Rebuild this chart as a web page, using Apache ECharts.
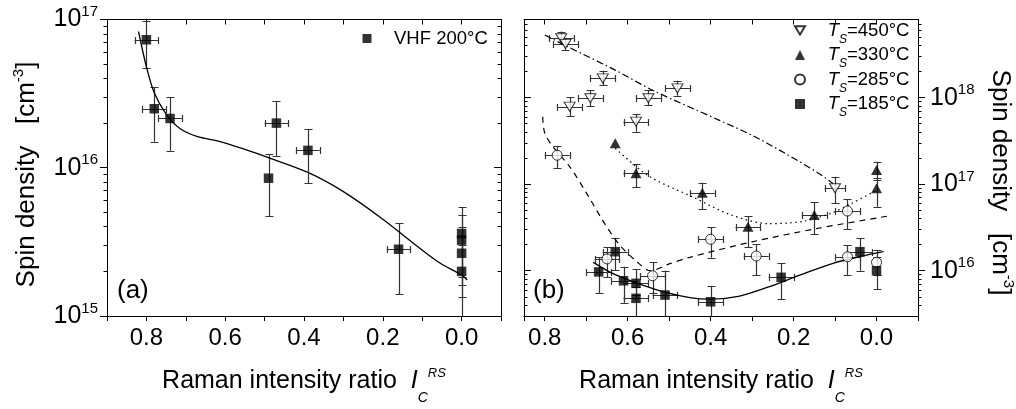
<!DOCTYPE html>
<html><head><meta charset="utf-8">
<script src="https://cdn.jsdelivr.net/npm/echarts@6/dist/echarts.min.js"></script>
<style>html,body{margin:0;padding:0;background:#fff}#c{width:1016px;height:409px}</style>
</head><body><div id="c"></div>
<script>
const FONT = '"Liberation Sans", Arial, Helvetica, sans-serif';

// ---------- panel (a): VHF 200°C ----------
const aX    = [0.80, 0.78, 0.74, 0.49, 0.47, 0.39, 0.16, 0.0, 0.0, 0.0, 0.0];
const aY    = [7.3e16, 2.5e16, 2.15e16, 8.5e15, 2.0e16, 1.31e16, 2.82e15, 3.6e15, 3.25e15, 2.65e15, 2.0e15];
const aYLo  = [4.7e16, 1.5e16, 1.3e16, 4.7e15, 1.2e16, 7.85e15, 1.41e15, 1.84e15, 1.62e15, 1.35e15, 1.0e15];
const aYHi  = [9.8e16, 3.5e16, 3.0e16, 1.23e16, 2.8e16, 1.82e16, 4.22e15, 5.4e15, 4.8e15, 4.0e15, 3.0e15];
const aXErr = [0.03, 0.03, 0.03, 0, 0.03, 0.03, 0.03, 0, 0, 0, 0];
const aFitX = [0.82, 0.80, 0.78, 0.75, 0.715, 0.67, 0.62, 0.55, 0.49, 0.39, 0.30, 0.20, 0.105, 0.054, 0.0, -0.014];
const aFitY = [8.3e16, 4.8e16, 3.2e16, 2.3e16, 1.84e16, 1.62e16, 1.52e16, 1.33e16, 1.17e16, 9.3e15, 6.9e15, 4.5e15, 2.85e15, 2.27e15, 1.89e15, 1.75e15];

// ---------- panel (b) ----------
const t450X   = [0.76, 0.75, 0.66, 0.69, 0.74, 0.55, 0.48, 0.58, 0.10];
const t450Y   = [4.86e18, 4.18e18, 1.67e18, 9.85e17, 7.87e17, 9.85e17, 1.28e18, 5.28e17, 8.98e16];
const t450Lo  = [4.2e18, 3.55e18, 1.4e18, 8.0e17, 6.1e17, 8.2e17, 1.05e18, 4.05e17, 6.0e16];
const t450Hi  = [5.8e18, 4.9e18, 2.05e18, 1.23e18, 1.01e18, 1.23e18, 1.57e18, 6.5e17, 1.22e17];
const t450XE  = [0.03, 0.03, 0.03, 0.03, 0.03, 0.03, 0.03, 0.03, 0.025];

const t330X   = [0.63, 0.58, 0.42, 0.31, 0.15, 0.0, 0.0];
const t330Y   = [2.97e17, 1.34e17, 7.98e16, 3.22e16, 4.4e16, 1.46e17, 8.98e16];
const t330Lo  = [null, 9.2e16, 5.13e16, 1.86e16, 2.64e16, 1.12e17, 5.5e16];
const t330Hi  = [null, 1.7e17, 1.04e17, 4.28e16, 6.2e16, 1.82e17, 1.17e17];
const t330XE  = [0, 0.03, 0.03, 0.03, 0.03, 0, 0];

const t285X   = [0.77, 0.65, 0.54, 0.40, 0.29, 0.07, 0.07, 0.0];
const t285Y   = [2.16e17, 1.37e16, 8.75e15, 2.31e16, 1.48e16, 4.9e16, 1.45e16, 1.25e16];
const t285Lo  = [1.53e17, 8.4e15, 5.5e15, 1.41e16, 8.9e15, 3.0e16, 8.9e15, 9.0e15];
const t285Hi  = [2.79e17, 1.86e16, 1.25e16, 3.2e16, 2.04e16, 6.7e16, 1.98e16, 1.73e16];
const t285XE  = [0.03, 0.03, 0.03, 0.03, 0.03, 0.03, 0.03, 0];

const t185X   = [0.67, 0.63, 0.61, 0.58, 0.58, 0.51, 0.40, 0.23, 0.04, 0.0];
const t185Y   = [9.7e15, 1.66e16, 7.66e15, 7.15e15, 4.8e15, 5.24e15, 4.38e15, 8.4e15, 1.66e16, 1.0e16];
const t185Lo  = [5.5e15, 1.02e16, 4.26e15, 5.25e15, 3.0e15, 3.0e15, 3.0e15, 4.66e15, 1.0e16, 6.1e15];
const t185Hi  = [1.43e16, 2.41e16, 1.11e16, 1.04e16, 6.53e15, 1.0e16, 6.66e15, 1.22e16, 2.37e16, 1.45e16];
const t185XE  = [0.03, 0.03, 0.03, 0.03, 0.03, 0.03, 0.03, 0.03, 0.03, 0];

const c450X = [0.80, 0.75, 0.63, 0.54, 0.38, 0.30, 0.22, 0.14, 0.105];
const c450Y = [5.3e18, 4.0e18, 2.08e18, 1.22e18, 5.5e17, 3.67e17, 2.27e17, 1.34e17, 1.02e17];
const c330X = [0.63, 0.55, 0.44, 0.35, 0.26, 0.18, 0.11, 0.06, 0.0];
const c330Y = [2.6e17, 1.25e17, 7.0e16, 4.4e16, 3.5e16, 3.7e16, 4.6e16, 6.0e16, 8.5e16];
const c285X = [0.805, 0.80, 0.78, 0.74, 0.70, 0.66, 0.62, 0.58, 0.545, 0.50, 0.45, 0.30, 0.14, -0.03];
const c285Y = [6.0e17, 3.9e17, 2.7e17, 1.6e17, 8.0e16, 3.8e16, 2.0e16, 1.3e16, 1.0e16, 1.2e16, 1.43e16, 2.16e16, 3.1e16, 4.3e16];
const c185X = [0.683, 0.63, 0.53, 0.45, 0.40, 0.33, 0.26, 0.185, 0.105, 0.024, -0.017];
const c185Y = [1.25e16, 9.0e15, 6.0e15, 4.9e15, 4.7e15, 5.1e15, 6.5e15, 8.9e15, 1.22e16, 1.52e16, 1.66e16];

// axis ranges / ticks
const xRangeA = [-0.1, 0.9];
const xRangeB = [-0.1, 0.85];
const yRangeA = [1e15, 1e17];
const yRangeB = [3e15, 8e18];
const majorA = [1e15, 1e16, 1e17];
const majorB = [1e16, 1e17, 1e18];
function minorsIn(r) {
  const out = [];
  for (let e = 14; e <= 19; e++) for (let m = 2; m <= 9; m++) {
    const v = m * Math.pow(10, e);
    if (v > r[0] * 1.0001 && v < r[1] * 0.9999) out.push(v);
  }
  return out;
}
const minorA = minorsIn(yRangeA);
const minorB = minorsIn(yRangeB);

function rows(x, y, lo, hi, xe) { return x.map((v, i) => [v, y[i], lo[i], hi[i], xe[i]]); }
function pairs(x, y) { return x.map((v, i) => [v, y[i]]); }

const ERR_COLOR = '#333';
function renderErr(params, api) {
  const x = api.value(0), y = api.value(1), lo = api.value(2), hi = api.value(3), xe = api.value(4);
  const ch = [];
  const st = { stroke: ERR_COLOR, lineWidth: 1.2 };
  const L = (x1, y1, x2, y2) => ch.push({ type: 'line', shape: { x1, y1, x2, y2 }, style: st });
  const cap = 4;
  if (isFinite(lo) && isFinite(hi) && hi > lo) {
    const pl = api.coord([x, lo]), ph = api.coord([x, hi]);
    const cx = Math.round(pl[0]) + 0.5;
    L(cx, pl[1], cx, ph[1]);
    L(cx - cap, Math.round(pl[1]) + 0.5, cx + cap, Math.round(pl[1]) + 0.5);
    L(cx - cap, Math.round(ph[1]) + 0.5, cx + cap, Math.round(ph[1]) + 0.5);
  }
  if (isFinite(xe) && xe > 0) {
    const pa = api.coord([x - xe, y]), pb = api.coord([x + xe, y]);
    const cy = Math.round(pa[1]) + 0.5;
    L(pa[0], cy, pb[0], cy);
    L(Math.round(pa[0]) + 0.5, cy - 3.5, Math.round(pa[0]) + 0.5, cy + 3.5);
    L(Math.round(pb[0]) + 0.5, cy - 3.5, Math.round(pb[0]) + 0.5, cy + 3.5);
  }
  return { type: 'group', children: ch };
}

function xFmt(v) {
  const r = Math.round(v * 10);
  return (r >= 0 && r <= 8 && r % 2 === 0) ? (r / 10).toFixed(1) : '';
}
function xAx(grid, range, pos, labels) {
  return {
    type: 'value', gridIndex: grid, min: range[0], max: range[1], interval: 0.1, inverse: true, position: pos,
    axisLine: { show: true, onZero: false, lineStyle: { color: '#000', width: 1 } },
    axisTick: { show: true, inside: !labels, length: 5, lineStyle: { color: '#000', width: 1 } },
    axisLabel: labels ? { show: true, interval: 0, margin: 10, formatter: xFmt, color: '#000', fontSize: 24, fontFamily: FONT, hideOverlap: false } : { show: false },
    splitLine: { show: false }
  };
}
const supRich = {
  b: { fontSize: 25, fontFamily: FONT, color: '#000' },
  s: { fontSize: 15, fontFamily: FONT, color: '#000', padding: [0, 0, 15, 0] }
};
function yFmt(v) { return '{b|10}{s|' + Math.round(Math.log10(v)) + '}'; }
function yAx(grid, range, pos, inside, majors, vals, labels, margin) {
  return {
    type: 'log', logBase: 10, gridIndex: grid, min: range[0], max: range[1], position: pos,
    axisLine: { show: true, onZero: false, lineStyle: { color: '#000', width: 1 } },
    axisTick: { show: true, inside: inside, length: majors ? 7 : 3.5, customValues: vals, lineStyle: { color: '#000', width: 1 } },
    axisLabel: labels ? { show: true, customValues: vals, margin: margin, formatter: yFmt, rich: supRich, color: '#000' } : { show: false },
    splitLine: { show: false }, minorTick: { show: false }
  };
}

const chart = echarts.init(document.getElementById('c'), null, { renderer: 'canvas' });

const lineBase = (name, xi, yi, data, type, width) => ({
  name, type: 'line', xAxisIndex: xi, yAxisIndex: yi, data, showSymbol: false, symbol: 'none',
  smooth: 0.3, lineStyle: { color: '#000', width: width, type: type }, z: 3, silent: true, legendHoverLink: false
});
const errBase = (xi, yi, data) => ({
  type: 'custom', xAxisIndex: xi, yAxisIndex: yi, data, renderItem: renderErr, clip: true, z: 2, silent: true,
  encode: { x: 0, y: 1 }
});
const DOWN_TRI = 'path://M0,0 L12,0 L6,10 Z';
const SP = '\u00a0';
const xTitleRich = {
  n: { fontFamily: FONT, fontSize: 25, fill: '#000' },
  i: { fontFamily: FONT, fontSize: 25, fontStyle: 'italic', fill: '#000' },
  c: { fontFamily: FONT, fontSize: 14, fontStyle: 'italic', fill: '#000', padding: [34, 0, 0, 0] },
  r: { fontFamily: FONT, fontSize: 13, fontStyle: 'italic', fill: '#000', padding: [0, 0, 16, 0] }
};
const yTitleRich = {
  n: { fontFamily: FONT, fontSize: 26, fill: '#000' },
  s: { fontFamily: FONT, fontSize: 15, fill: '#000', padding: [0, 0, 16, 0] }
};
const xTitle = '{n|Raman intensity ratio' + SP + SP + '}{i|I}{c|C}{r|RS}';
const yTitle = '{n|Spin density' + SP + SP + SP + '[cm}{s|-3}{n|]}';

const option = {
  animation: false,
  backgroundColor: '#fff',
  textStyle: { fontFamily: FONT },
  grid: [
    { left: 107, top: 19.5, width: 394, height: 296.5, outerBoundsMode: 'none', containLabel: false },
    { left: 524, top: 19.5, width: 394, height: 296.5, outerBoundsMode: 'none', containLabel: false }
  ],
  xAxis: [
    xAx(0, xRangeA, 'bottom', true),
    xAx(0, xRangeA, 'top', false),
    xAx(1, xRangeB, 'bottom', true),
    xAx(1, xRangeB, 'top', false)
  ],
  yAxis: [
    yAx(0, yRangeA, 'left', false, true, majorA, true, 9),
    yAx(0, yRangeA, 'left', false, false, minorA, false),
    yAx(0, yRangeA, 'right', true, true, majorA, false),
    yAx(0, yRangeA, 'right', true, false, minorA, false),
    yAx(1, yRangeB, 'right', false, true, majorB, true, 12),
    yAx(1, yRangeB, 'right', false, false, minorB, false),
    yAx(1, yRangeB, 'left', true, true, majorB, false),
    yAx(1, yRangeB, 'left', true, false, minorB, false)
  ],
  legend: [
    {
      data: ['VHF 200°C'], orient: 'vertical', left: 362.5, top: 29, padding: 0, itemGap: 0,
      itemWidth: 9, itemHeight: 9, selectedMode: false,
      textStyle: { fontFamily: FONT, fontSize: 18.5, color: '#000', padding: [0, 0, 0, 17.5] }
    },
    {
      data: ['450', '330', '285', '185'], orient: 'vertical', left: 794, top: 21, padding: 0, itemGap: 0,
      itemWidth: 10, itemHeight: 10, selectedMode: false,
      formatter: n => '{t|T}{s|S}{n|=' + n + '°C}',
      textStyle: {
        fontFamily: FONT, fontSize: 18.5, color: '#000', padding: [0, 0, 0, 17.7],
        rich: {
          t: { fontFamily: FONT, fontSize: 18.5, fontStyle: 'italic', color: '#000' },
          s: { fontFamily: FONT, fontSize: 12, fontStyle: 'italic', color: '#000', padding: [18, 0, 0, 0] },
          n: { fontFamily: FONT, fontSize: 18.5, color: '#000' }
        }
      }
    }
  ],
  series: [
    errBase(0, 0, rows(aX, aY, aYLo, aYHi, aXErr)),
    lineBase('fitA', 0, 0, pairs(aFitX, aFitY), 'solid', 1.3),
    { name: 'VHF 200°C', type: 'scatter', xAxisIndex: 0, yAxisIndex: 0, data: pairs(aX, aY), symbol: 'rect', symbolSize: 9.5,
      itemStyle: { color: '#000' }, z: 4 },

    errBase(2, 4, rows(t450X, t450Y, t450Lo, t450Hi, t450XE)),
    errBase(2, 4, rows(t330X, t330Y, t330Lo, t330Hi, t330XE)),
    errBase(2, 4, rows(t285X, t285Y, t285Lo, t285Hi, t285XE)),
    errBase(2, 4, rows(t185X, t185Y, t185Lo, t185Hi, t185XE)),
    lineBase('c450', 2, 4, pairs(c450X, c450Y), [7, 3, 1.5, 3], 1.2),
    lineBase('c330', 2, 4, pairs(c330X, c330Y), [1.5, 3.5], 1.2),
    lineBase('c285', 2, 4, pairs(c285X, c285Y), [6, 5], 1.2),
    lineBase('c185', 2, 4, pairs(c185X, c185Y), 'solid', 1.3),
    { name: '450', type: 'scatter', xAxisIndex: 2, yAxisIndex: 4, data: pairs(t450X, t450Y), symbol: DOWN_TRI, symbolSize: [11, 9],
      itemStyle: { color: '#fff', borderColor: '#000', borderWidth: 1 }, z: 4 },
    { name: '330', type: 'scatter', xAxisIndex: 2, yAxisIndex: 4, data: pairs(t330X, t330Y), symbol: 'triangle', symbolSize: [11, 10],
      itemStyle: { color: '#000' }, z: 4 },
    { name: '285', type: 'scatter', xAxisIndex: 2, yAxisIndex: 4, data: pairs(t285X, t285Y), symbol: 'circle', symbolSize: 10,
      itemStyle: { color: '#fff', borderColor: '#000', borderWidth: 1 }, z: 4 },
    { name: '185', type: 'scatter', xAxisIndex: 2, yAxisIndex: 4, data: pairs(t185X, t185Y), symbol: 'rect', symbolSize: 9.5,
      itemStyle: { color: '#000' }, z: 4 }
  ],
  graphic: [
    { type: 'text', x: 304, y: 381, z: 10, style: { text: xTitle, align: 'center', verticalAlign: 'middle', rich: xTitleRich } },
    { type: 'text', x: 721, y: 381, z: 10, style: { text: xTitle, align: 'center', verticalAlign: 'middle', rich: xTitleRich } },
    { type: 'text', x: 27, y: 174.5, rotation: Math.PI / 2, z: 10, style: { text: yTitle, align: 'center', verticalAlign: 'middle', rich: yTitleRich } },
    { type: 'text', x: 1000, y: 182.5, rotation: -Math.PI / 2, z: 10, style: { text: yTitle, align: 'center', verticalAlign: 'middle', rich: yTitleRich } },
    { type: 'text', x: 117, y: 291, z: 10, style: { text: '(a)', fontFamily: FONT, fontSize: 26, fill: '#000', align: 'left', verticalAlign: 'middle' } },
    { type: 'text', x: 533, y: 291, z: 10, style: { text: '(b)', fontFamily: FONT, fontSize: 26, fill: '#000', align: 'left', verticalAlign: 'middle' } }
  ]
};
chart.setOption(option);
</script></body></html>
